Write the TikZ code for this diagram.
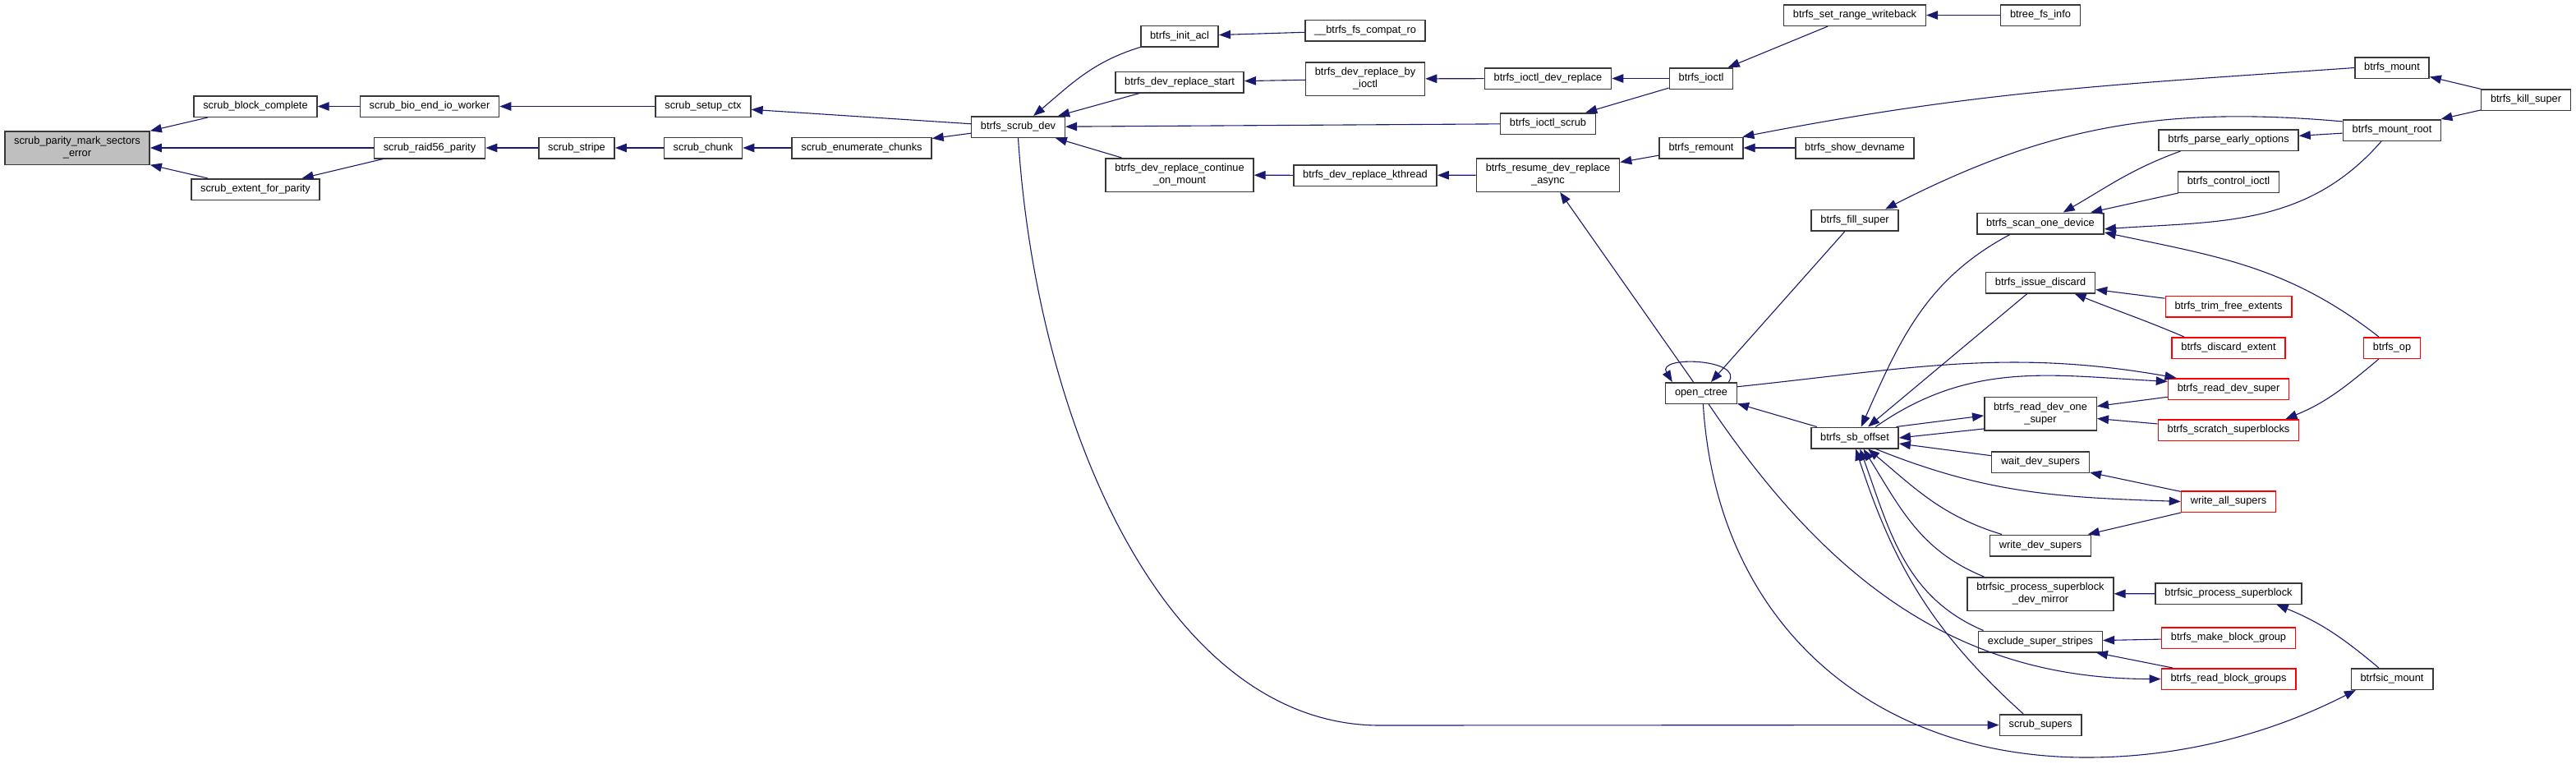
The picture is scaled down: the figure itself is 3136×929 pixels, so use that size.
\documentclass[tikz,border=0pt]{standalone}
\usepackage{fontspec}
\setmainfont{Liberation Sans}
\usetikzlibrary{arrows.meta}
\definecolor{dxblue}{HTML}{191970}
\definecolor{dxframe}{HTML}{383838}
\definecolor{dxgray}{HTML}{BFBFBF}
\definecolor{dxred}{HTML}{FF0000}

\begin{document}
\begin{tikzpicture}[
  x=1pt, y=1pt,
  font=\fontsize{12.8}{15}\selectfont,
  box/.style={draw=dxframe, line width=1.5pt, fill=white, align=center, inner xsep=11.3pt, inner ysep=2pt, minimum height=25.5pt},
  tall/.style={box, minimum height=40.5pt},
  focus/.style={fill=dxgray},
  cut/.style={draw=dxred},
  line/.style={-{Triangle[length=14pt, width=10.5pt]}, line width=1.1pt, dxblue}
]
\useasboundingbox (0,0) rectangle (3136,-929);

\node[tall, focus] (mse) at (94,-180) {scrub\_parity\_mark\_sectors\\\_error};
\node[box] (bc) at (311,-129.5) {scrub\_block\_complete};
\node[box] (efp) at (311,-230.5) {scrub\_extent\_for\_parity};
\node[box] (bio) at (523,-129.5) {scrub\_bio\_end\_io\_worker};
\node[box] (r56) at (523,-180) {scrub\_raid56\_parity};
\node[box] (stripe) at (702,-180) {scrub\_stripe};
\node[box] (setup) at (856,-129.5) {scrub\_setup\_ctx};
\node[box] (chunk) at (856,-180) {scrub\_chunk};
\node[box] (enum) at (1049,-180) {scrub\_enumerate\_chunks};
\node[box] (sdev) at (1239.5,-154.5) {btrfs\_scrub\_dev};
\node[box] (acl) at (1436,-44) {btrfs\_init\_acl};
\node[box] (drs) at (1436,-100) {btrfs\_dev\_replace\_start};
\node[tall] (dcm) at (1436,-213) {btrfs\_dev\_replace\_continue\\\_on\_mount};
\node[box] (compat) at (1662,-37) {\_\_btrfs\_fs\_compat\_ro};
\node[tall] (dbi) at (1662,-96) {btrfs\_dev\_replace\_by\\\_ioctl};
\node[box] (kthr) at (1662,-213.5) {btrfs\_dev\_replace\_kthread};
\node[box] (idr) at (1884.5,-95.5) {btrfs\_ioctl\_dev\_replace};
\node[box] (iscrub) at (1884.5,-150.5) {btrfs\_ioctl\_scrub};
\node[tall] (resume) at (1884.5,-213) {btrfs\_resume\_dev\_replace\\\_async};
\node[box] (ioctl) at (2071,-95.5) {btrfs\_ioctl};
\node[box] (remount) at (2071,-180) {btrfs\_remount};
\node[box] (octree) at (2071,-478.5) {open\_ctree};
\node[box] (srw) at (2258,-18.5) {btrfs\_set\_range\_writeback};
\node[box] (sdn) at (2258,-180) {btrfs\_show\_devname};
\node[box] (fsup) at (2258,-268) {btrfs\_fill\_super};
\node[box] (sbo) at (2258,-533) {btrfs\_sb\_offset};
\node[box] (bfi) at (2484,-18.5) {btree\_fs\_info};
\node[box] (scan) at (2484,-272) {btrfs\_scan\_one\_device};
\node[box] (disc) at (2484,-344) {btrfs\_issue\_discard};
\node[tall] (rdos) at (2484,-503.5) {btrfs\_read\_dev\_one\\\_super};
\node[box] (wds) at (2484,-562.5) {wait\_dev\_supers};
\node[box] (wrds) at (2484,-664) {write\_dev\_supers};
\node[tall] (mirror) at (2484,-723) {btrfsic\_process\_superblock\\\_dev\_mirror};
\node[box] (excl) at (2484,-781) {exclude\_super\_stripes};
\node[box] (ssup) at (2484,-882.5) {scrub\_supers};
\node[box] (peo) at (2713,-170.5) {btrfs\_parse\_early\_options};
\node[box] (ctl) at (2713,-221.5) {btrfs\_control\_ioctl};
\node[box, cut] (trim) at (2713,-373) {btrfs\_trim\_free\_extents};
\node[box, cut] (dext) at (2713,-423.5) {btrfs\_discard\_extent};
\node[box, cut] (rds) at (2713,-473.5) {btrfs\_read\_dev\_super};
\node[box, cut] (scratch) at (2713,-523.5) {btrfs\_scratch\_superblocks};
\node[box, cut] (was) at (2713,-610.5) {write\_all\_supers};
\node[box] (psb) at (2713,-722.5) {btrfsic\_process\_superblock};
\node[box, cut] (mbg) at (2713,-776.5) {btrfs\_make\_block\_group};
\node[box, cut] (rbg) at (2713,-826.5) {btrfs\_read\_block\_groups};
\node[box] (mount) at (2912,-82.5) {btrfs\_mount};
\node[box] (mroot) at (2912,-158.5) {btrfs\_mount\_root};
\node[box, cut] (bop) at (2912,-423.5) {btrfs\_op};
\node[box] (bmount) at (2912,-826.5) {btrfsic\_mount};
\node[box] (kill) at (3075,-121.5) {btrfs\_kill\_super};

\draw[line] (bc) -- (mse);
\draw[line] (r56) -- (mse);
\draw[line] (efp) -- (mse);
\draw[line] (r56) -- (efp);
\draw[line] (bio) -- (bc);
\draw[line] (setup) -- (bio);
\draw[line] (stripe) -- (r56);
\draw[line] (chunk) -- (stripe);
\draw[line] (enum) -- (chunk);
\draw[line] (sdev) -- (setup);
\draw[line] (sdev) -- (enum);
\draw[line] (acl.south west) to[out=197,in=40] (sdev.36);
\draw[line] (drs) -- (sdev);
\draw[line] (iscrub) -- (sdev);
\draw[line] (dcm) -- (sdev);
\draw[line] (sdev.south) .. controls (1262,-520) and (1420,-883) .. (1680,-883) -- (ssup);
\draw[line] (compat) -- (acl);
\draw[line] (dbi) -- (drs);
\draw[line] (idr) -- (dbi);
\draw[line] (ioctl) -- (idr);
\draw[line] (ioctl) -- (iscrub);
\draw[line] (srw) -- (ioctl);
\draw[line] (bfi) -- (srw);
\draw[line] (kthr) -- (dcm);
\draw[line] (resume) -- (kthr);
\draw[line] (remount) -- (resume);
\draw[line] (octree) -- (resume);
\draw[line] (sdn) -- (remount);
\draw[line] (mount.west) to[out=184,in=11] (remount.15);
\draw[line] (mroot.170) to[out=175,in=27] (fsup.20);
\draw[line] (kill) -- (mount);
\draw[line] (kill) -- (mroot);
\draw[line] (mroot) -- (peo);
\draw[line] (mroot.226) to[out=229,in=4] (scan.-5);
\draw[line] (bop.140) to[out=142,in=-12] (scan.-8);
\draw[line] (peo.193) to[out=200,in=30] (scan.26);
\draw[line] (ctl) -- (scan);
\draw[line] (fsup) -- (octree);
\draw[line] (octree.22) .. controls +(20,28) and +(-20,33) .. (octree.159);
\draw[line] (sbo) -- (octree);
\draw[line] (scan.200) to[out=208,in=66] (sbo.60);
\draw[line] (disc) -- (sbo);
\draw[line] (trim) -- (disc);
\draw[line] (dext.166) to[out=157,in=-22] (disc.-18);
\draw[line] (octree.10) to[out=6,in=170] (rds.168);
\draw[line] (sbo.28) to[out=35,in=177] (rds.173);
\draw[line] (sbo.15) -- (rdos.182);
\draw[line] (rdos.195) -- (sbo.east);
\draw[line] (rds) -- (rdos);
\draw[line] (scratch) -- (rdos);
\draw[line] (bop.220) to[out=220,in=22] (scratch.11);
\draw[line] (wds) -- (sbo);
\draw[line] (was) -- (wds);
\draw[line] (sbo.-28) to[out=-22,in=178] (was.west);
\draw[line] (was) -- (wrds);
\draw[line] (wrds.164) to[out=163,in=-40] (sbo.-40);
\draw[line] (mirror.163) to[out=158,in=-58] (sbo.-52);
\draw[line] (excl.169) to[out=157,in=-70] (sbo.-65);
\draw[line] (ssup.147) to[out=138,in=-72] (sbo.-85);
\draw[line] (psb) -- (mirror);
\draw[line] (bmount.140) to[out=140,in=-22] (psb.-13);
\draw[line] (mbg) -- (excl);
\draw[line] (rbg) -- (excl);
\draw[line] (octree.-56) to[out=-56,in=180] (rbg.west);
\draw[line] (octree.-80) .. controls (2090,-760) and (2280,-922) .. (2540,-922) .. controls (2680,-922) and (2790,-880) .. (bmount.197);
\end{tikzpicture}
\end{document}
